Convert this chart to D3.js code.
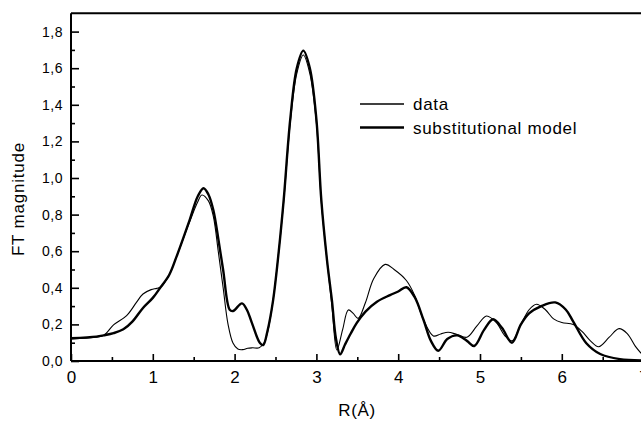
<!DOCTYPE html>
<html>
<head>
<meta charset="utf-8">
<script src="https://cdn.jsdelivr.net/npm/d3@7"></script>
<style>
	body { margin: 0; background: #fff; }
	svg { display: block; font-family: "Liberation Sans", Arial, sans-serif; }
</style>
</head>
<body>
<svg id="chart" width="641" height="422"></svg>
<script>
// R (Å) / FT magnitude
var dataR = [0, 0.3, 0.4, 0.52, 0.68, 0.8, 0.88, 0.98, 1.05, 1.1, 1.2, 1.29, 1.45, 1.55, 1.6, 1.68, 1.74, 1.8, 1.86, 1.92, 1.98, 2.04, 2.1, 2.16, 2.22, 2.3, 2.36, 2.41, 2.47, 2.54, 2.6, 2.68, 2.76, 2.84, 2.92, 3.0, 3.06, 3.13, 3.19, 3.25, 3.32, 3.39, 3.45, 3.51, 3.6, 3.7, 3.84, 3.95, 4.1, 4.2, 4.31, 4.43, 4.52, 4.61, 4.72, 4.84, 4.96, 5.08, 5.2, 5.3, 5.39, 5.5, 5.6, 5.69, 5.8, 5.9, 6.0, 6.14, 6.25, 6.35, 6.45, 6.58, 6.7, 6.8, 6.9, 6.97];
var dataY = [0.12, 0.13, 0.14, 0.197, 0.248, 0.32, 0.366, 0.39, 0.397, 0.405, 0.47, 0.57, 0.76, 0.87, 0.907, 0.875, 0.79, 0.6, 0.4, 0.2, 0.098, 0.065, 0.062, 0.07, 0.072, 0.072, 0.1, 0.17, 0.33, 0.6, 0.87, 1.3, 1.57, 1.672, 1.57, 1.3, 0.87, 0.55, 0.3, 0.06, 0.17, 0.279, 0.26, 0.233, 0.32, 0.45, 0.528, 0.5, 0.44, 0.36, 0.224, 0.137, 0.148, 0.157, 0.145, 0.13, 0.19, 0.246, 0.21, 0.14, 0.11, 0.2, 0.28, 0.31, 0.28, 0.23, 0.21, 0.2, 0.16, 0.11, 0.078, 0.13, 0.177, 0.15, 0.08, 0.042];

var modelR = [0, 0.31, 0.4, 0.52, 0.64, 0.75, 0.88, 1.0, 1.09, 1.2, 1.29, 1.45, 1.55, 1.62, 1.68, 1.74, 1.8, 1.86, 1.94, 1.98, 2.09, 2.15, 2.21, 2.31, 2.35, 2.4, 2.47, 2.54, 2.6, 2.68, 2.76, 2.84, 2.92, 3.0, 3.06, 3.13, 3.19, 3.24, 3.29, 3.35, 3.42, 3.49, 3.6, 3.74, 3.9, 4.0, 4.1, 4.2, 4.31, 4.4, 4.49, 4.6, 4.72, 4.84, 4.93, 5.05, 5.16, 5.27, 5.39, 5.5, 5.6, 5.75, 5.92, 6.05, 6.14, 6.3, 6.47, 6.71, 7.0];
var modelY = [0.124, 0.133, 0.14, 0.152, 0.173, 0.215, 0.29, 0.345, 0.4, 0.47, 0.57, 0.77, 0.9, 0.944, 0.91, 0.825, 0.67, 0.497, 0.28, 0.273, 0.315, 0.28, 0.21, 0.098, 0.087, 0.16, 0.33, 0.6, 0.88, 1.32, 1.6, 1.696, 1.6, 1.32, 0.88, 0.55, 0.33, 0.12, 0.037, 0.09, 0.15, 0.206, 0.27, 0.324, 0.36, 0.38, 0.403, 0.35, 0.224, 0.11, 0.056, 0.12, 0.14, 0.11, 0.082, 0.17, 0.228, 0.18, 0.1, 0.2, 0.26, 0.3, 0.32, 0.28, 0.215, 0.097, 0.038, 0.01, 0.003];

var xTicks = [0, 1, 2, 3, 4, 5, 6, 7];
var yTicks = [0, 0.2, 0.4, 0.6, 0.8, 1.0, 1.2, 1.4, 1.6, 1.8];
var legendNames = ["data", "substitutional model"];

var svg = d3.select("#chart");

var x = d3.scaleLinear().domain([0, 7]).range([71, 643.6]);
var y = d3.scaleLinear().domain([0, 1.9]).range([361, 13.3]);

var comma = function(d) { return d3.format(".1f")(d).replace(".", ","); };

// top frame
svg.append("line")
	.attr("x1", 71).attr("x2", 641)
	.attr("y1", y(1.9)).attr("y2", y(1.9))
	.attr("stroke", "#000").attr("stroke-width", 2);

// minor ticks
svg.append("g")
	.attr("transform", "translate(71,0)")
	.call(d3.axisLeft(y).tickValues(d3.range(0.1, 1.9, 0.2)).tickSize(-4).tickFormat(""))
	.call(function(g) { g.select(".domain").remove(); });
svg.append("g")
	.attr("transform", "translate(0,361)")
	.call(d3.axisBottom(x).tickValues(d3.range(0.5, 7, 1)).tickSize(-4).tickFormat(""))
	.call(function(g) { g.select(".domain").remove(); });

// major axes
var yAxis = svg.append("g")
	.attr("transform", "translate(71,0)")
	.call(d3.axisLeft(y).tickValues(yTicks).tickSize(-8).tickPadding(8).tickFormat(comma));
yAxis.selectAll("text").attr("font-size", 14).attr("letter-spacing", 0.5);
yAxis.select(".domain").attr("d", "M0," + y(1.9) + "V361");

var xAxis = svg.append("g")
	.attr("transform", "translate(0,361)")
	.call(d3.axisBottom(x).tickValues(xTicks).tickSize(-7).tickPadding(10).tickFormat(d3.format("d")));
xAxis.selectAll("text").attr("font-size", 17);
xAxis.select(".domain").attr("d", "M71,0H641");

svg.selectAll(".tick line").attr("stroke-width", 1.6);
svg.selectAll(".domain").attr("stroke-width", 2);
svg.selectAll(".tick text").attr("fill", "#000");

// axis titles
svg.append("text")
	.attr("x", 357).attr("y", 416)
	.attr("text-anchor", "middle")
	.attr("font-size", 17).attr("letter-spacing", 0.6)
	.text("R(Å)");

svg.append("text")
	.attr("transform", "translate(24,199) rotate(-90)")
	.attr("text-anchor", "middle")
	.attr("font-size", 17).attr("letter-spacing", 0.8)
	.text("FT magnitude");

// curves
var line = d3.line()
	.x(function(d) { return x(d[0]); })
	.y(function(d) { return y(d[1]); })
	.curve(d3.curveCatmullRom.alpha(0.5));

var series = [
	{ name: legendNames[0], pts: d3.zip(dataR, dataY), w: 1.1 },
	{ name: legendNames[1], pts: d3.zip(modelR, modelY), w: 2.4 }
];

svg.append("g").selectAll("path").data(series).enter().append("path")
	.attr("d", function(d) { return line(d.pts); })
	.attr("fill", "none")
	.attr("stroke", "#000")
	.attr("stroke-width", function(d) { return d.w; })
	.attr("stroke-linejoin", "round");

// legend
var leg = svg.append("g").selectAll("g").data(series).enter().append("g")
	.attr("transform", function(d, i) { return "translate(360," + (104 + i * 23.5) + ")"; });
leg.append("line")
	.attr("x1", 0).attr("x2", 44)
	.attr("stroke", "#000")
	.attr("stroke-width", function(d) { return d.w + 0.2; });
leg.append("text")
	.attr("x", 53).attr("y", 6)
	.attr("font-size", 17).attr("letter-spacing", 0.7)
	.text(function(d) { return d.name; });
</script>
</body>
</html>
